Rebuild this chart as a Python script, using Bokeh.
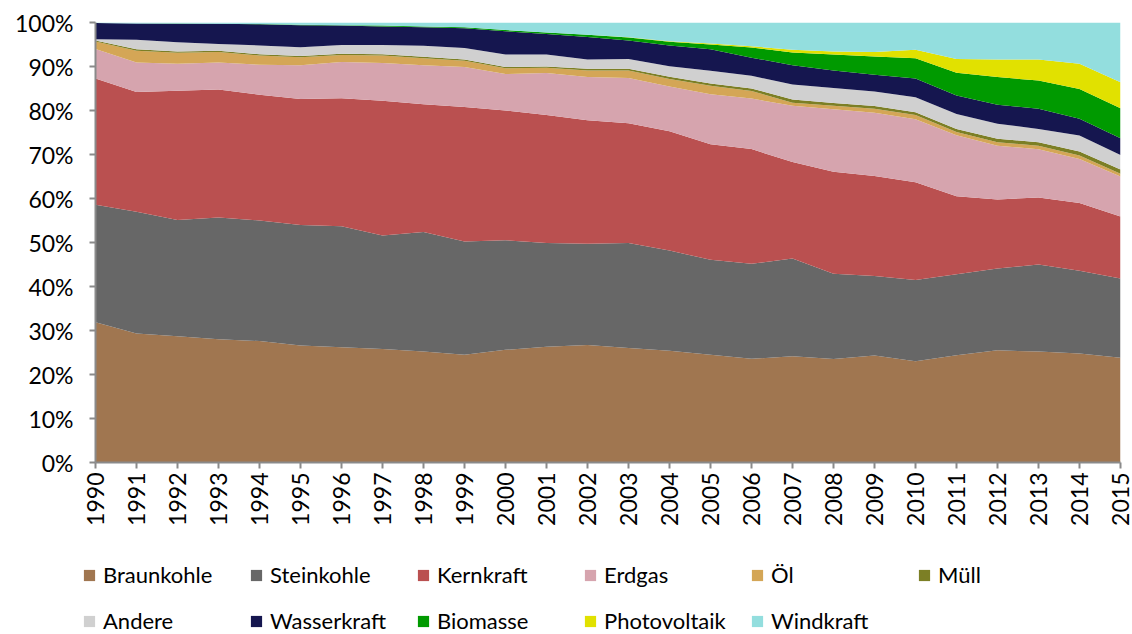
from bokeh.plotting import figure
from bokeh.models import (ColumnDataSource, Legend, LegendItem, PrintfTickFormatter,
                          FixedTicker, Range1d)
from bokeh.layouts import column
from bokeh.embed import file_html
from bokeh.resources import INLINE
import math

years = list(range(1990, 2016))

braunkohle = [31.9, 29.3, 28.7, 28.0, 27.6, 26.6, 26.2, 25.8, 25.2, 24.5, 25.6, 26.3, 26.7,
              26.0, 25.4, 24.5, 23.6, 24.1, 23.5, 24.3, 23.0, 24.4, 25.5, 25.2, 24.8, 23.8]
steinkohle = [26.7, 27.7, 26.4, 27.7, 27.4, 27.4, 27.5, 25.8, 27.2, 25.7, 24.9, 23.6, 23.0,
              23.9, 22.8, 21.6, 21.6, 22.2, 19.4, 18.1, 18.5, 18.4, 18.6, 19.8, 18.8, 18.0]
kernkraft = [28.7, 27.2, 29.4, 29.1, 28.6, 28.6, 29.1, 30.6, 29.0, 30.6, 29.5, 29.1, 28.1,
             27.2, 27.1, 26.3, 26.1, 21.9, 23.2, 22.7, 22.2, 17.7, 15.7, 15.2, 15.4, 14.1]
erdgas = [6.7, 6.7, 6.1, 6.1, 6.8, 7.7, 8.2, 8.6, 8.9, 9.1, 8.3, 9.5, 9.8,
          10.3, 10.2, 11.4, 11.5, 12.8, 14.2, 14.4, 14.3, 13.9, 12.2, 11.0, 10.0, 9.1]
oel = [1.7, 2.7, 2.5, 2.4, 2.1, 1.8, 1.6, 1.7, 1.6, 1.4, 1.3, 1.2, 1.5,
       1.7, 1.7, 1.9, 1.7, 0.7, 0.8, 0.9, 1.0, 0.7, 0.8, 0.8, 0.8, 0.6]
muell = [0.2, 0.3, 0.3, 0.3, 0.3, 0.3, 0.3, 0.3, 0.3, 0.3, 0.3, 0.3, 0.4,
         0.4, 0.5, 0.5, 0.6, 0.7, 0.6, 0.6, 0.6, 0.7, 0.8, 0.8, 0.9, 1.0]
andere = [0.3, 2.2, 2.1, 1.5, 2.0, 2.0, 2.0, 2.1, 2.5, 2.6, 2.8, 2.7, 2.1,
          2.2, 2.4, 2.9, 2.9, 3.4, 3.4, 3.3, 3.4, 3.4, 3.4, 3.0, 3.6, 3.3]
wasserkraft = [3.7, 3.7, 4.2, 4.6, 4.8, 5.0, 4.4, 4.2, 4.2, 4.5, 5.3, 4.7, 5.1,
               4.2, 4.7, 4.9, 4.1, 4.4, 4.0, 3.8, 4.3, 4.2, 4.3, 4.6, 3.8, 3.8]
biomasse = [0.0, 0.0, 0.05, 0.0, 0.05, 0.1, 0.1, 0.2, 0.2, 0.2, 0.3, 0.3, 0.5,
            0.7, 0.9, 1.1, 2.3, 2.9, 3.6, 4.2, 4.6, 5.2, 6.3, 6.4, 6.8, 6.8]
photovoltaik = [0.0, 0.0, 0.0, 0.0, 0.0, 0.0, 0.0, 0.0, 0.0, 0.0, 0.0, 0.0, 0.0,
                0.05, 0.1, 0.2, 0.3, 0.6, 0.7, 1.0, 1.9, 3.1, 4.0, 4.8, 5.7, 5.9]
windkraft = [0.1, 0.2, 0.25, 0.3, 0.35, 0.5, 0.6, 0.7, 0.9, 1.1, 1.7, 2.3, 2.8,
             3.35, 4.25, 4.8, 5.4, 6.2, 6.6, 6.7, 6.2, 8.3, 8.4, 8.4, 9.4, 13.6]

labels = ["Braunkohle", "Steinkohle", "Kernkraft", "Erdgas", "Öl", "Müll",
          "Andere", "Wasserkraft", "Biomasse", "Photovoltaik", "Windkraft"]
series = [braunkohle, steinkohle, kernkraft, erdgas, oel, muell,
          andere, wasserkraft, biomasse, photovoltaik, windkraft]
colors = ["#A07650", "#676767", "#BA5050", "#D6A4AE", "#D4A656", "#7C7F25",
          "#D0D0D0", "#15164F", "#009A00", "#E1E100", "#93DEDE"]

# normalise each year to 100 %
totals = [sum(s[i] for s in series) for i in range(len(years))]
keys = ["s%d" % k for k in range(len(series))]
data = {"year": years}
for k, s in zip(keys, series):
    data[k] = [v / t * 100.0 for v, t in zip(s, totals)]
src = ColumnDataSource(data)

FONT = "Lato"
W = 1132

p = figure(width=W, height=540, output_backend="svg", toolbar_location=None,
           x_range=Range1d(1990, 2015), y_range=Range1d(0, 100),
           min_border_left=95, min_border_right=12, min_border_top=22, min_border_bottom=78)
p.outline_line_color = None
p.background_fill_color = "white"
p.border_fill_color = "white"

rs = p.varea_stack(stackers=keys, x="year", color=colors, source=src)

p.xgrid.visible = False
p.ygrid.ticker = FixedTicker(ticks=[100])
p.ygrid.grid_line_color = "#C8C8C8"
p.ygrid.grid_line_width = 2
p.ygrid.level = "overlay"

p.yaxis.ticker = FixedTicker(ticks=list(range(0, 101, 10)))
p.yaxis.formatter = PrintfTickFormatter(format="%d%%")
p.xaxis.ticker = FixedTicker(ticks=years)
p.xaxis.major_label_orientation = math.pi / 2
for ax in (p.xaxis[0], p.yaxis[0]):
    ax.axis_line_color = "#8A8A8A"
    ax.axis_line_width = 2
    ax.major_tick_line_color = "#8A8A8A"
    ax.major_tick_line_width = 2
    ax.major_tick_out = 6
    ax.major_tick_in = 0
    ax.minor_tick_line_color = None
    ax.major_label_text_font = FONT
    ax.major_label_text_font_size = "23px"
    ax.major_label_text_color = "#000000"
p.yaxis.major_label_standoff = 16
p.xaxis.major_label_standoff = 4

# legend panel below the chart (swatch renderers lie outside its visible range)
lg = figure(width=W, height=94, output_backend="svg", toolbar_location=None,
            x_axis_location=None, y_axis_location=None,
            x_range=Range1d(0, 1), y_range=Range1d(0, 1),
            min_border_left=0, min_border_right=0, min_border_top=0, min_border_bottom=0)
lg.grid.visible = False
lg.outline_line_color = None
lg.background_fill_color = "white"
lg.border_fill_color = "white"
swatches = [lg.varea(x=[5, 6], y1=[5, 5], y2=[6, 6], color=c) for c in colors]

x0 = -13
if "frame_align" in lg.properties():
    lg.frame_align = False
    p.frame_align = False
    x0 = 82


def make_legend(idx, loc):
    items = [LegendItem(label=labels[i], renderers=[swatches[i]]) for i in idx]
    return Legend(items=items, orientation="horizontal",
                  glyph_width=14, glyph_height=14, label_standoff=7, label_width=146,
                  label_height=26, spacing=0, padding=0, margin=0,
                  label_text_font=FONT, label_text_font_size="22px",
                  label_text_color="#000000", border_line_color=None,
                  background_fill_alpha=0, location=loc)


lg.add_layout(make_legend(range(0, 6), (x0, 46)), "center")
lg.add_layout(make_legend(range(6, 11), (x0, 0)), "center")

layout = column(p, lg, spacing=0)
open("out.html", "w").write(file_html(layout, INLINE))
